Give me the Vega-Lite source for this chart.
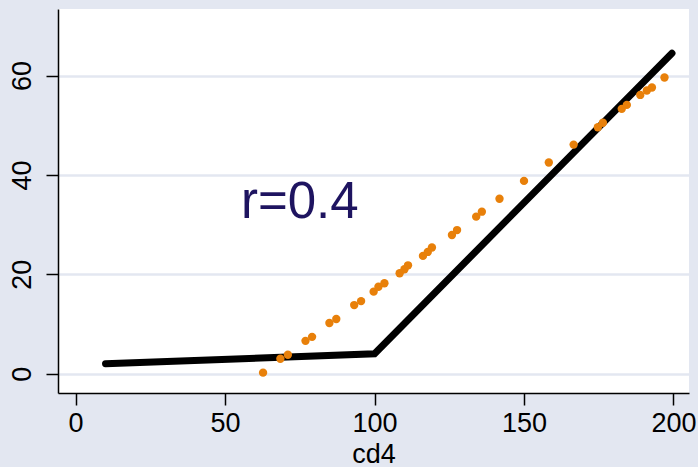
{
  "$schema": "https://vega.github.io/schema/vega-lite/v6.json",
  "width": 631,
  "height": 384,
  "autosize": "none",
  "padding": {"left": 58, "top": 9, "right": 9, "bottom": 74},
  "background": "#e3e7f1",
  "view": {"fill": "white", "stroke": null},
  "config": {
    "font": "Liberation Sans",
    "axis": {
      "labelFont": "Liberation Sans",
      "labelFontSize": 27,
      "labelColor": "black",
      "titleFont": "Liberation Sans",
      "titleFontSize": 27,
      "titleFontWeight": "normal",
      "titleColor": "black",
      "domainColor": "black",
      "domainWidth": 1.5,
      "tickColor": "black",
      "tickWidth": 1.5,
      "tickSize": 12,
      "labelPadding": 5,
      "gridColor": "#e3e7f1",
      "gridWidth": 2.5,
      "gridOpacity": 1
    }
  },
  "datasets": {
    "pts": [
      {"cd4": 62.7, "y": 0.2},
      {"cd4": 68.5, "y": 3.0},
      {"cd4": 71.0, "y": 3.8},
      {"cd4": 76.9, "y": 6.6},
      {"cd4": 79.1, "y": 7.4},
      {"cd4": 84.9, "y": 10.2},
      {"cd4": 87.2, "y": 11.0},
      {"cd4": 93.2, "y": 13.8},
      {"cd4": 95.5, "y": 14.6},
      {"cd4": 99.7, "y": 16.5},
      {"cd4": 101.3, "y": 17.5},
      {"cd4": 103.3, "y": 18.2},
      {"cd4": 108.4, "y": 20.2},
      {"cd4": 110.0, "y": 21.0},
      {"cd4": 111.2, "y": 21.8},
      {"cd4": 116.2, "y": 23.7},
      {"cd4": 117.8, "y": 24.5},
      {"cd4": 119.2, "y": 25.4},
      {"cd4": 125.9, "y": 27.9},
      {"cd4": 127.6, "y": 28.9},
      {"cd4": 134.0, "y": 31.6},
      {"cd4": 135.9, "y": 32.6},
      {"cd4": 141.8, "y": 35.2},
      {"cd4": 150.0, "y": 38.8},
      {"cd4": 158.3, "y": 42.5},
      {"cd4": 166.6, "y": 46.1},
      {"cd4": 174.7, "y": 49.6},
      {"cd4": 176.4, "y": 50.5},
      {"cd4": 182.7, "y": 53.3},
      {"cd4": 184.4, "y": 54.1},
      {"cd4": 188.9, "y": 56.1},
      {"cd4": 191.1, "y": 57.0},
      {"cd4": 192.8, "y": 57.6},
      {"cd4": 197.0, "y": 59.6}
    ],
    "fit": [
      {"cd4": 10, "y": 2.0},
      {"cd4": 100, "y": 4.0},
      {"cd4": 199.5, "y": 64.5}
    ],
    "lab": [
      {"cd4": 75, "y": 31.3, "t": "r=0.4"}
    ]
  },
  "layer": [
    {
      "data": {"name": "fit"},
      "mark": {"type": "line", "color": "black", "strokeWidth": 7, "strokeCap": "round", "strokeJoin": "miter"},
      "encoding": {
        "x": {
          "field": "cd4", "type": "quantitative",
          "scale": {"domain": [-5.9, 205.2], "nice": false, "zero": false},
          "axis": {"values": [0, 50, 100, 150, 200], "grid": false, "title": "cd4", "titleBaseline": "alphabetic", "titleY": 69, "labelAngle": 0, "labelFlush": false}
        },
        "y": {
          "field": "y", "type": "quantitative",
          "scale": {"domain": [-3.9, 73.4], "nice": false, "zero": false},
          "axis": {"values": [0, 20, 40, 60], "grid": true, "title": null, "labelAngle": -90, "labelFlush": false, "labelPadding": 10}
        }
      }
    },
    {
      "data": {"name": "pts"},
      "mark": {"type": "circle", "color": "#e8800a", "opacity": 1, "size": 70},
      "encoding": {
        "x": {"field": "cd4", "type": "quantitative"},
        "y": {"field": "y", "type": "quantitative"}
      }
    },
    {
      "data": {"name": "lab"},
      "mark": {"type": "text", "color": "#1e1460", "fontSize": 51, "font": "Liberation Sans", "align": "center", "baseline": "alphabetic"},
      "encoding": {
        "x": {"field": "cd4", "type": "quantitative"},
        "y": {"field": "y", "type": "quantitative"},
        "text": {"field": "t"}
      }
    }
  ]
}
